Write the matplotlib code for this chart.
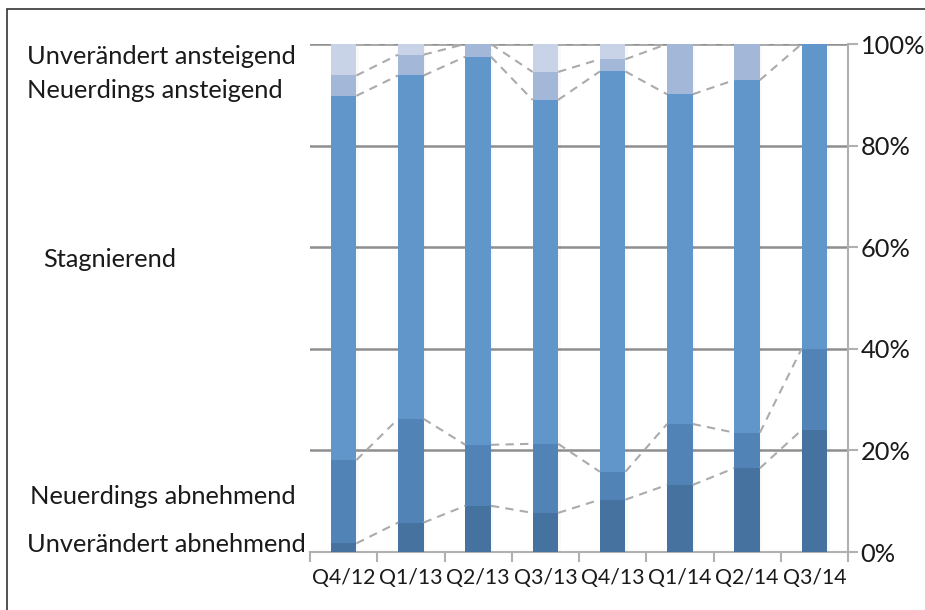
import matplotlib
matplotlib.use("Agg")
import matplotlib.pyplot as plt
import numpy as np
from matplotlib.patches import Rectangle

# Quarterly shares (%) of each assessment category
quarters = ["Q4/12", "Q1/13", "Q2/13", "Q3/13", "Q4/13", "Q1/14", "Q2/14", "Q3/14"]
unv_abnehmend = [1.7, 5.8, 9.1, 7.7, 10.3, 13.2, 16.5, 24.0]
neu_abnehmend = [16.4, 20.4, 12.0, 13.6, 5.5, 12.0, 7.0, 16.0]
stagnierend = [71.7, 67.6, 76.4, 67.7, 78.8, 64.9, 69.4, 60.0]
neu_ansteigend = [4.0, 4.1, 2.5, 5.5, 2.4, 9.9, 7.1, 0.0]
unv_ansteigend = [6.2, 2.1, 0.0, 5.5, 3.0, 0.0, 0.0, 0.0]

series_names = ["Unverändert abnehmend", "Neuerdings abnehmend", "Stagnierend",
                "Neuerdings ansteigend", "Unverändert ansteigend"]
series = [unv_abnehmend, neu_abnehmend, stagnierend, neu_ansteigend, unv_ansteigend]
colors = ["#46729f", "#5283b6", "#6096c9", "#a3b7d9", "#c8d3e7"]

plt.rcParams["font.family"] = ["Lato", "DejaVu Sans"]

fig = plt.figure(figsize=(9.25, 6.1), dpi=100)
ax = fig.add_axes([310 / 925, 58 / 610, 538 / 925, 508 / 610])

x = np.arange(len(quarters))
width = 0.38
bottom = np.zeros(len(quarters))
tops = []
for vals, col in zip(series, colors):
    vals = np.array(vals)
    # faint drop shadow
    ax.bar(x + 0.035, vals, width, bottom=bottom - 0.4, color="#000000", alpha=0.025,
           linewidth=0, zorder=2)
    ax.bar(x, vals, width, bottom=bottom, color=col, linewidth=0, zorder=3)
    bottom = bottom + vals
    tops.append(bottom.copy())

# series lines joining the top of each segment between neighbouring bars
for t in tops:
    for i in range(len(quarters) - 1):
        ax.plot([x[i] + width / 2, x[i + 1] - width / 2], [t[i], t[i + 1]],
                color="#ababab", lw=1.5, ls=(0, (4, 3)), zorder=4)

ax.set_xlim(-0.5, len(quarters) - 0.5)
ax.set_ylim(0, 100)
ax.set_yticks(np.arange(0, 101, 20))
ax.yaxis.grid(True, color="#8f8f8f", lw=1.8, zorder=1)
ax.set_axisbelow(True)
ax.yaxis.tick_right()
ax.set_yticklabels([f"{v}%" for v in range(0, 101, 20)], fontsize=18.3)
ax.tick_params(axis="y", length=7, width=1.5, color="#b0b0b0", pad=2, labelcolor="#1a1a1a")

ax.set_xticks(x)
ax.set_xticklabels(quarters, fontsize=15.3, color="#1a1a1a")
ax.set_xticks(np.arange(-0.5, len(quarters), 1), minor=True)
ax.tick_params(axis="x", which="major", length=0, pad=11.5)
ax.tick_params(axis="x", which="minor", length=7, width=1.5, color="#b0b0b0")

for s in ["top", "left"]:
    ax.spines[s].set_visible(False)
for s in ["right", "bottom"]:
    ax.spines[s].set_color("#b0b0b0")
    ax.spines[s].set_linewidth(1.5)

# category names on the left
label_pos = [(27, 545), (30, 497), (43, 259), (27, 91), (27, 57)]
for name, (px, py) in zip(series_names, label_pos):
    fig.text(px / 925, 1 - py / 610, name, fontsize=18.3, va="center", ha="left",
             color="#1a1a1a")

# outer frame
fig.patches.append(Rectangle((7 / 925, -0.1), 1.2, 1 - 9 / 610 + 0.1,
                             transform=fig.transFigure, fill=False,
                             edgecolor="#333333", lw=1.2))

fig.savefig("out.png", dpi=100)
